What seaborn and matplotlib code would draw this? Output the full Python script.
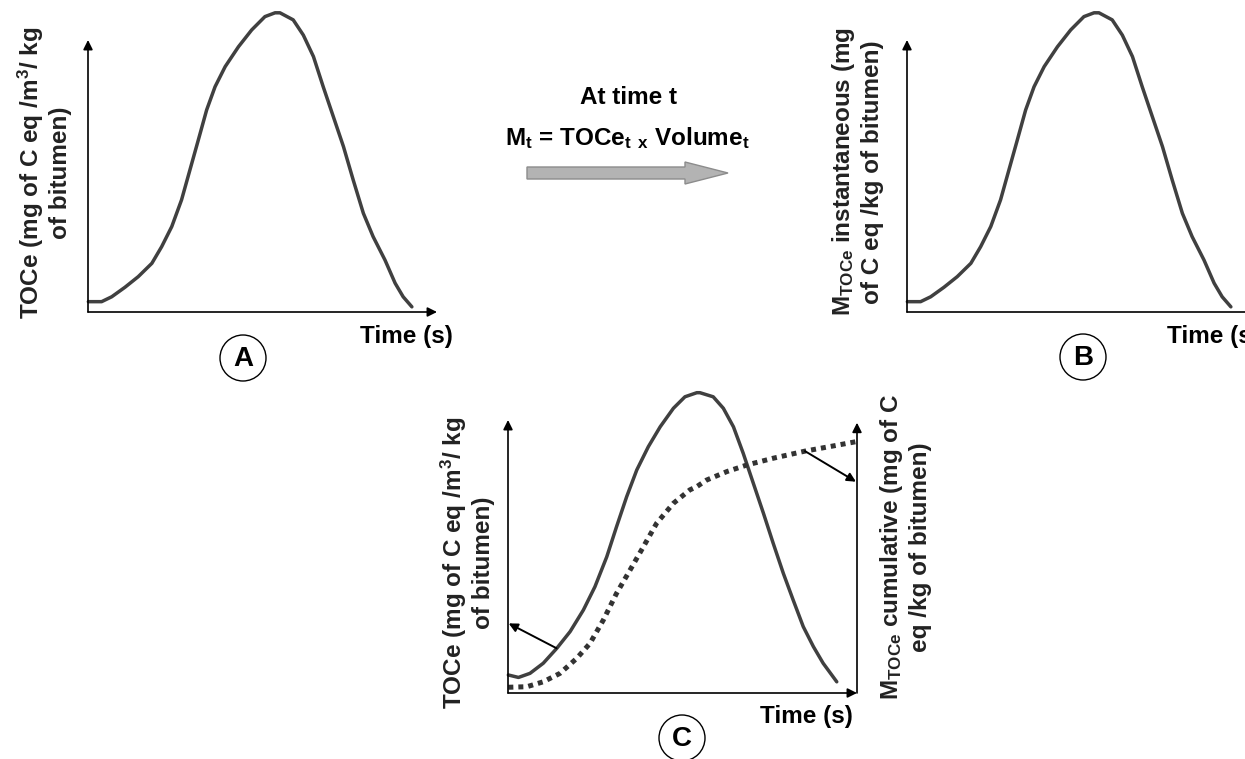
import numpy as np
import matplotlib
matplotlib.use("Agg")
import matplotlib.pyplot as plt
import matplotlib.patches as mpatches
import seaborn as sns

# ================================================
# Curve values (x: 0-100 along time axis, y: 0-100 up to arrow tip)
# ================================================
toce_x = [0.1, 3.9, 6.8, 10.6, 14.4, 18.3, 21.1, 24.0, 26.8, 29.2, 31.6, 34.0,
          36.4, 39.3, 43.1, 46.9, 50.7, 53.6, 55.0, 58.8, 61.7, 64.6, 67.4, 70.3,
          73.2, 76.0, 78.9, 81.7, 85.1, 88.0, 90.3, 92.8]
toce_y = [3.8, 3.8, 5.6, 9.1, 13.0, 17.9, 24.0, 31.4, 41.2, 52.2, 63.2, 74.3,
          82.8, 90.2, 97.5, 103.7, 108.6, 110.0, 110.0, 107.4, 101.8, 93.9, 82.8, 71.8,
          60.8, 48.5, 36.3, 27.7, 19.1, 10.6, 5.6, 1.9]

c_toce_x = [0.1, 3.0, 6.3, 10.1, 14.0, 17.8, 21.6, 24.9, 28.3, 31.1, 34.0, 36.9,
            40.2, 43.6, 47.4, 50.7, 54.1, 55.0, 58.8, 61.7, 64.6, 67.4, 70.3, 73.2,
            76.0, 78.9, 81.7, 84.6, 87.5, 90.3, 94.2]
c_toce_y = [6.6, 5.7, 7.2, 10.9, 16.4, 22.5, 30.4, 38.9, 49.9, 60.9, 71.9, 81.7,
            90.2, 97.5, 104.3, 108.5, 110.0, 110.0, 108.5, 104.3, 97.5, 87.8, 76.8, 65.8,
            54.8, 43.8, 34.1, 24.3, 17.0, 10.9, 4.1]

cum_x = [0.1, 5.4, 10.1, 14.9, 19.7, 23.5, 27.3, 31.1, 35.0, 38.8, 42.6, 47.4,
         52.1, 54.1, 56.9, 62.7, 68.4, 76.0, 85.1, 93.2, 99.9]
cum_y = [2.1, 2.3, 4.1, 7.2, 12.7, 18.2, 26.7, 36.5, 45.1, 53.6, 62.2, 69.5,
         74.4, 75.6, 78.0, 81.1, 83.5, 86.0, 88.6, 90.5, 92.1]

# pointer arrows in panel C (from curve to axis)
left_ptr = [(13.9, 16.4), (0.2, 25.5)]
right_ptr = [(85.1, 88.6), (99.7, 77.4)]

# ================================================
# Style
# ================================================
sns.set_theme(style="white")
plt.rcParams["font.family"] = ["Liberation Sans", "DejaVu Sans"]
plt.rcParams["font.weight"] = "bold"
plt.rcParams["mathtext.fontset"] = "custom"
plt.rcParams["mathtext.rm"] = "Liberation Sans:bold"
plt.rcParams["mathtext.it"] = "Liberation Sans:bold"
plt.rcParams["mathtext.bf"] = "Liberation Sans:bold"

W, H = 1245, 759
fig = plt.figure(figsize=(W / 100, H / 100), dpi=100, facecolor="white")

# overlay in pixel coordinates for labels, circles, block arrow
ov = fig.add_axes([0, 0, 1, 1])
ov.set_xlim(0, W)
ov.set_ylim(H, 0)
ov.axis("off")

FS = 17.5
TXT = "#222222"
CURVE = "#404040"
AXIS_ARROW = dict(arrowstyle="-|>", color="black", lw=1.2, mutation_scale=14,
                  shrinkA=0, shrinkB=0)


def make_panel(left, top, width=349, height=272):
    ax = fig.add_axes([left / W, (H - top - height) / H, width / W, height / H])
    ax.set_xlim(0, 100)
    ax.set_ylim(0, 100)
    ax.axis("off")
    ax.annotate("", xy=(0, 1), xytext=(0, 0), xycoords="axes fraction", arrowprops=AXIS_ARROW)
    ax.annotate("", xy=(1, 0), xytext=(0, 0), xycoords="axes fraction", arrowprops=AXIS_ARROW)
    return ax


def draw_curve(ax, x, y, **kw):
    sns.lineplot(x=x, y=y, ax=ax, estimator=None, sort=False, **kw)
    line = ax.lines[-1]
    line.set_clip_on(False)
    line.set_solid_joinstyle("round")
    line.set_solid_capstyle("round")


# ---- Panel A
axA = make_panel(88, 40)
draw_curve(axA, toce_x, toce_y, color=CURVE, linewidth=2.5)

# ---- Panel B
axB = make_panel(907, 40)
draw_curve(axB, toce_x, toce_y, color=CURVE, linewidth=2.5)

# ---- Panel C
axC = make_panel(508, 420, height=273)
axC.annotate("", xy=(1, 0.99), xytext=(1, 0), xycoords="axes fraction", arrowprops=AXIS_ARROW)
draw_curve(axC, c_toce_x, c_toce_y, color=CURVE, linewidth=2.5)
draw_curve(axC, cum_x, cum_y, color="#333333", linewidth=3.6, linestyle=(0, (1, 1)))
for (x0, y0), (x1, y1) in [left_ptr, right_ptr]:
    axC.annotate("", xy=(x1, y1), xytext=(x0, y0),
                 arrowprops=dict(arrowstyle="-|>", color="black", lw=1.4,
                                 mutation_scale=13, shrinkA=0, shrinkB=0))

# ================================================
# Text
# ================================================
toce_label = "TOCe (mg of C eq /m$^3$/ kg\nof bitumen)"
ov.text(44, 173, toce_label, rotation=90, ha="center", va="center",
        multialignment="center", fontsize=FS, color=TXT)
ov.text(857, 172, "M$_\\mathrm{TOCe}$ instantaneous (mg\nof C eq /kg of bitumen)",
        rotation=90, ha="center", va="center", multialignment="center",
        fontsize=FS, color=TXT)
ov.text(467, 563, toce_label, rotation=90, ha="center", va="center",
        multialignment="center", fontsize=FS, color=TXT)
ov.text(905, 547, "M$_\\mathrm{TOCe}$ cumulative (mg of C\neq /kg of bitumen)",
        rotation=90, ha="center", va="center", multialignment="center",
        fontsize=FS, color=TXT)

ov.text(453, 336, "Time (s)", ha="right", va="center", fontsize=FS, color="black")
ov.text(1167, 336, "Time (s)", ha="left", va="center", fontsize=FS, color="black")
ov.text(853, 716, "Time (s)", ha="right", va="center", fontsize=FS, color="black")

ov.text(628, 97, "At time t", ha="center", va="center", fontsize=FS, color="black")
ov.text(627, 138, "M$_\\mathrm{t}$ = TOCe$_\\mathrm{t}$ $_\\mathrm{x}$ Volume$_\\mathrm{t}$",
        ha="center", va="center", fontsize=FS, color="black")

# gray block arrow
ov.add_patch(mpatches.FancyArrow(527, 173, 201, 0, width=12, head_width=22,
                                 head_length=43, length_includes_head=True,
                                 facecolor="#b3b3b3", edgecolor="#8c8c8c", lw=1.0))

# circled panel letters
for letter, cx, cy in [("A", 243, 358), ("B", 1083, 357), ("C", 682, 738)]:
    ov.add_patch(mpatches.Circle((cx, cy), 23, facecolor="white",
                                 edgecolor="black", lw=1.0))
    ov.text(cx, cy + 1, letter, ha="center", va="center", fontsize=20, color="black")

fig.savefig("out.png", dpi=100, facecolor="white")
